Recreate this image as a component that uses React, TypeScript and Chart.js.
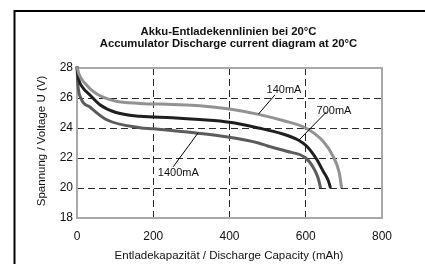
import React, { useEffect, useRef } from "react";
import { Chart, registerables } from "chart.js";

Chart.register(...registerables);

const TITLE_LINES = ["Akku-Entladekennlinien bei 20°C", "Accumulator Discharge current diagram at 20°C"];
const X_TITLE = "Entladekapazität / Discharge Capacity (mAh)";
const Y_TITLE = "Spannung / Voltage U (V)";
const X_TICKS = [0, 200, 400, 600, 800];
const Y_TICKS = [18, 20, 22, 24, 26, 28];

const SERIES_NAMES = ["140mA", "700mA", "1400mA"];

const CAP_140 = [0, 5, 20, 50, 100, 165, 250, 322, 400, 476, 540, 600, 646, 672, 688, 694];
const U_140 = [28.1, 27.6, 27.0, 26.3, 25.8, 25.64, 25.57, 25.49, 25.27, 24.91, 24.5, 24.0, 23.1, 22.1, 21.0, 20.0];

const CAP_700 = [0, 4, 15, 34, 60, 100, 165, 250, 322, 400, 476, 540, 580, 602, 629, 646, 659, 665];
const U_700 = [28.1, 27.3, 26.7, 26.2, 25.55, 25.05, 24.78, 24.68, 24.56, 24.38, 24.0, 23.6, 23.2, 22.8, 21.9, 21.1, 20.5, 20.0];

const CAP_1400 = [0, 2, 10, 34, 78, 165, 200, 322, 400, 476, 500, 550, 600, 620, 632, 639];
const U_1400 = [28.1, 27.0, 26.0, 25.4, 24.55, 24.02, 23.95, 23.64, 23.38, 23.0, 22.8, 22.45, 22.0, 21.35, 20.7, 20.0];

const COLORS = ["#929292", "#1f1f1f", "#5c5c5c"];

// annotation: label centre, leader line start and end (data units)
const ANNOTATIONS = [
  { text: "140mA", label: [543, 26.53], from: [519, 26.2], to: [476, 24.93] },
  { text: "700mA", label: [674, 25.13], from: [655, 25.09], to: [580.5, 23.15] },
  { text: "1400mA", label: [265.7, 21.03], from: [252.6, 21.42], to: [318, 23.69] },
];

const FONT = "'Liberation Sans', Arial, sans-serif";

const toPoints = (xs: number[], ys: number[]) => xs.map((x, i) => ({ x, y: ys[i] }));

export default function App() {
  const ref = useRef<HTMLCanvasElement | null>(null);

  useEffect(() => {
    if (!ref.current) return;

    const decor = {
      id: "decor",
      beforeDatasetsDraw(chart: any) {
        const { ctx, chartArea: a } = chart;
        ctx.save();
        ctx.strokeStyle = "#a9a9a9";
        ctx.lineWidth = 2;
        ctx.strokeRect(a.left, a.top, a.right - a.left, a.bottom - a.top);
        ctx.restore();
      },
      afterDatasetsDraw(chart: any) {
        const { ctx } = chart;
        const xs = chart.scales.x;
        const ys = chart.scales.y;
        ctx.save();
        ctx.strokeStyle = "#000";
        ctx.lineWidth = 1;
        ctx.fillStyle = "#111";
        ctx.font = `11px ${FONT}`;
        ctx.textAlign = "center";
        ctx.textBaseline = "middle";
        for (const an of ANNOTATIONS) {
          ctx.beginPath();
          ctx.moveTo(xs.getPixelForValue(an.from[0]), ys.getPixelForValue(an.from[1]));
          ctx.lineTo(xs.getPixelForValue(an.to[0]), ys.getPixelForValue(an.to[1]));
          ctx.stroke();
        }
        for (const an of ANNOTATIONS) {
          ctx.fillText(an.text, xs.getPixelForValue(an.label[0]), ys.getPixelForValue(an.label[1]));
        }
        ctx.restore();
      },
      afterDraw(chart: any) {
        const { ctx } = chart;
        ctx.save();
        // outer frame
        ctx.strokeStyle = "#000";
        ctx.lineWidth = 2;
        ctx.strokeRect(14.5, 11, 600, 600);
        ctx.fillStyle = "#111";
        ctx.textAlign = "center";
        ctx.textBaseline = "middle";
        ctx.font = `bold 11.3px ${FONT}`;
        ctx.fillText(TITLE_LINES[0], 228.5, 31.5);
        ctx.fillText(TITLE_LINES[1], 228.5, 44);
        ctx.font = `11.5px ${FONT}`;
        ctx.fillText(X_TITLE, 229, 255.5);
        ctx.translate(41.7, 141);
        ctx.rotate(-Math.PI / 2);
        ctx.fillText(Y_TITLE, 0, 0);
        ctx.restore();
      },
    };

    const chart = new Chart(ref.current, {
      type: "line",
      data: {
        datasets: [
          { label: SERIES_NAMES[0], data: toPoints(CAP_140, U_140) },
          { label: SERIES_NAMES[1], data: toPoints(CAP_700, U_700) },
          { label: SERIES_NAMES[2], data: toPoints(CAP_1400, U_1400) },
        ].map((d, i) => ({
          ...d,
          borderColor: COLORS[i],
          backgroundColor: COLORS[i],
          borderWidth: 3,
          pointRadius: 0,
          cubicInterpolationMode: "monotone" as const,
          clip: false as any,
          fill: false,
        })),
      },
      options: {
        responsive: false,
        animation: false,
        layout: { padding: { left: 0, top: 68, right: 43, bottom: 0 } },
        plugins: { legend: { display: false }, title: { display: false }, tooltip: { enabled: false } },
        scales: {
          x: {
            type: "linear",
            min: X_TICKS[0],
            max: X_TICKS[X_TICKS.length - 1],
            afterBuildTicks: (s: any) => { s.ticks = X_TICKS.map((v) => ({ value: v })); },
            afterFit: (s: any) => { s.height = 46; },
            grid: {
              drawTicks: false,
              color: (c: any) => (c.tick && (c.tick.value === X_TICKS[0] || c.tick.value === X_TICKS[X_TICKS.length - 1]) ? "rgba(0,0,0,0)" : "#2a2a2a"),
              lineWidth: 1,
            },
            border: { display: false, dash: [7, 4] },
            ticks: { padding: 11, color: "#111", font: { family: FONT, size: 12 }, maxRotation: 0 },
          },
          y: {
            type: "linear",
            min: Y_TICKS[0],
            max: Y_TICKS[Y_TICKS.length - 1],
            afterBuildTicks: (s: any) => { s.ticks = Y_TICKS.map((v) => ({ value: v })); },
            afterFit: (s: any) => { s.width = 77; },
            grid: {
              drawTicks: false,
              color: (c: any) => (c.tick && (c.tick.value === Y_TICKS[0] || c.tick.value === Y_TICKS[Y_TICKS.length - 1]) ? "rgba(0,0,0,0)" : "#2a2a2a"),
              lineWidth: 1,
            },
            border: { display: false, dash: [7, 4] },
            ticks: { padding: 4, color: "#111", font: { family: FONT, size: 12 } },
          },
        },
      },
      plugins: [decor],
    } as any);

    return () => chart.destroy();
  }, []);

  return (
    <div style={{ position: "fixed", left: 0, top: 0, width: 425, height: 264, background: "#fff" }}>
      <canvas ref={ref} width={425} height={264} style={{ display: "block", width: 425, height: 264 }} />
    </div>
  );
}
